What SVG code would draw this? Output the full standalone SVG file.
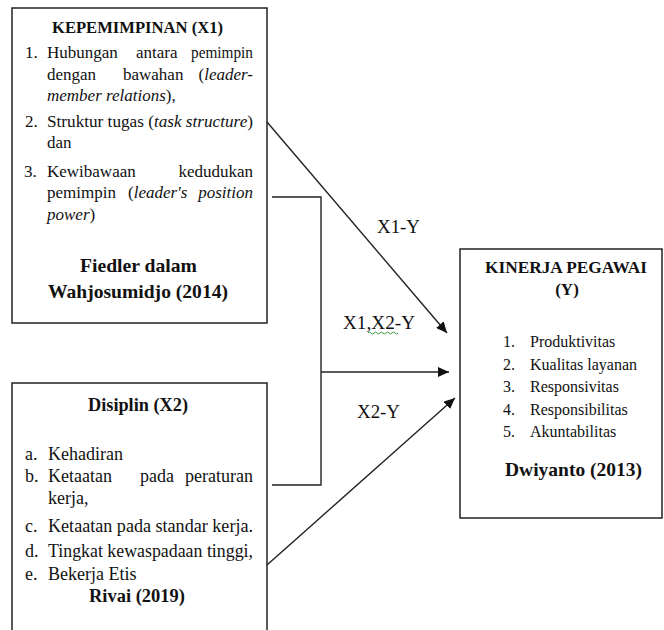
<svg xmlns="http://www.w3.org/2000/svg" width="664" height="630" viewBox="0 0 664 630">
<style>
.box{fill:#fff;stroke:#222;stroke-width:1.5}
.t{font-family:"Liberation Serif","Times New Roman",serif;fill:#111}
.b{font-weight:bold}
.i{font-style:italic}
.l1{font-size:17px}
.l2{font-size:18px}
.l3{font-size:16px}
.e{text-anchor:end}
.conn{fill:none;stroke:#222;stroke-width:1.4}
.lab{font-family:"Liberation Serif","Times New Roman",serif;font-size:18px;fill:#111}
</style>
<defs>
<marker id="arr" markerUnits="userSpaceOnUse" markerWidth="12" markerHeight="10" refX="11" refY="5" orient="auto">
<path d="M0,0 L11,5 L0,10 z" fill="#111"/>
</marker>
</defs>
<rect width="664" height="630" fill="#fff"/>

<g id="x1">
<rect class="box" x="12" y="8" width="255" height="315"/>
<text class="t b l1" x="52" y="33" textLength="171" lengthAdjust="spacingAndGlyphs">KEPEMIMPINAN (X1)</text>
<text class="t l1" x="25" y="58">1.</text>
<text class="t l1" x="47" y="58">Hubungan</text>
<text class="t l1" x="136" y="58">antara</text>
<text class="t l1" x="191" y="58" textLength="62" lengthAdjust="spacingAndGlyphs">pemimpin</text>
<text class="t l1" x="47" y="80">dengan</text>
<text class="t l1" x="123" y="80">bawahan</text>
<text class="t l1 e" x="253" y="80">(<tspan class="i">leader-</tspan></text>
<text class="t l1" x="47" y="101"><tspan class="i">member relations</tspan>),</text>
<text class="t l1" x="25" y="127">2.</text>
<text class="t l1" x="47" y="127" textLength="206" lengthAdjust="spacingAndGlyphs">Struktur tugas (<tspan class="i">task structure</tspan>)</text>
<text class="t l1" x="47" y="148">dan</text>
<text class="t l1" x="24" y="177">3.</text>
<text class="t l1" x="47" y="177">Kewibawaan</text>
<text class="t l1 e" x="253" y="177">kedudukan</text>
<text class="t l1" x="47" y="198">pemimpin</text>
<text class="t l1" x="128" y="198">(<tspan class="i">leader's</tspan></text>
<text class="t l1 i e" x="253" y="198">position</text>
<text class="t l1" x="47" y="220"><tspan class="i">power</tspan>)</text>
<text class="t b" font-size="19.5" x="80" y="272" textLength="117" lengthAdjust="spacingAndGlyphs">Fiedler dalam</text>
<text class="t b" font-size="19.5" x="48" y="298" textLength="180" lengthAdjust="spacingAndGlyphs">Wahjosumidjo (2014)</text>
</g>

<g id="x2">
<rect class="box" x="12" y="383" width="255" height="260"/>
<text class="t b" font-size="18" x="88" y="411" textLength="100" lengthAdjust="spacingAndGlyphs">Disiplin (X2)</text>
<text class="t l2" x="25" y="460">a.</text>
<text class="t l2" x="48" y="460">Kehadiran</text>
<text class="t l2" x="25" y="482">b.</text>
<text class="t l2" x="48" y="482">Ketaatan</text>
<text class="t l2" x="140" y="482">pada</text>
<text class="t l2 e" x="253" y="482">peraturan</text>
<text class="t l2" x="48" y="504">kerja,</text>
<text class="t l2" x="25" y="532">c.</text>
<text class="t l2" x="48" y="532" textLength="205" lengthAdjust="spacingAndGlyphs">Ketaatan pada standar kerja.</text>
<text class="t l2" x="25" y="557">d.</text>
<text class="t l2" x="48" y="557" textLength="205" lengthAdjust="spacingAndGlyphs">Tingkat kewaspadaan tinggi,</text>
<text class="t l2" x="25" y="580">e.</text>
<text class="t l2" x="48" y="580">Bekerja Etis</text>
<text class="t b" font-size="18" x="89" y="602" textLength="96" lengthAdjust="spacingAndGlyphs">Rivai (2019)</text>
</g>

<g id="y">
<rect class="box" x="460" y="249" width="202" height="269"/>
<text class="t b" font-size="17" x="485" y="273" textLength="162" lengthAdjust="spacingAndGlyphs">KINERJA PEGAWAI</text>
<text class="t b" font-size="17" x="567" y="295" text-anchor="middle">(Y)</text>
<text class="t l3" x="503" y="347">1.</text>
<text class="t l3" x="530" y="347">Produktivitas</text>
<text class="t l3" x="503" y="369.5">2.</text>
<text class="t l3" x="530" y="369.5">Kualitas layanan</text>
<text class="t l3" x="503" y="392">3.</text>
<text class="t l3" x="530" y="392">Responsivitas</text>
<text class="t l3" x="503" y="414.5">4.</text>
<text class="t l3" x="530" y="414.5">Responsibilitas</text>
<text class="t l3" x="503" y="437">5.</text>
<text class="t l3" x="530" y="437">Akuntabilitas</text>
<text class="t b" font-size="19.5" x="505" y="476" textLength="137" lengthAdjust="spacingAndGlyphs">Dwiyanto (2013)</text>
</g>

<g id="connectors">
<line class="conn" x1="267" y1="122" x2="447" y2="333" marker-end="url(#arr)"/>
<polyline class="conn" points="272,197 321,197 321,485 272,485"/>
<line class="conn" x1="321" y1="372" x2="449" y2="372" marker-end="url(#arr)"/>
<line class="conn" x1="267" y1="565" x2="455" y2="398" marker-end="url(#arr)"/>
<text class="lab" x="377" y="233" textLength="43" lengthAdjust="spacingAndGlyphs">X1-Y</text>
<text class="lab" x="343" y="329" textLength="72" lengthAdjust="spacingAndGlyphs">X1,X2-Y</text>
<path d="M368,333 q1.5,-2 3,0 t3,0 t3,0 t3,0 t3,0 t3,0 t3,0 t3,0 t3,0 t3,0" fill="none" stroke="#3a9a3a" stroke-width="1"/>
<text class="lab" x="357" y="418" textLength="43" lengthAdjust="spacingAndGlyphs">X2-Y</text>
</g>
</svg>
